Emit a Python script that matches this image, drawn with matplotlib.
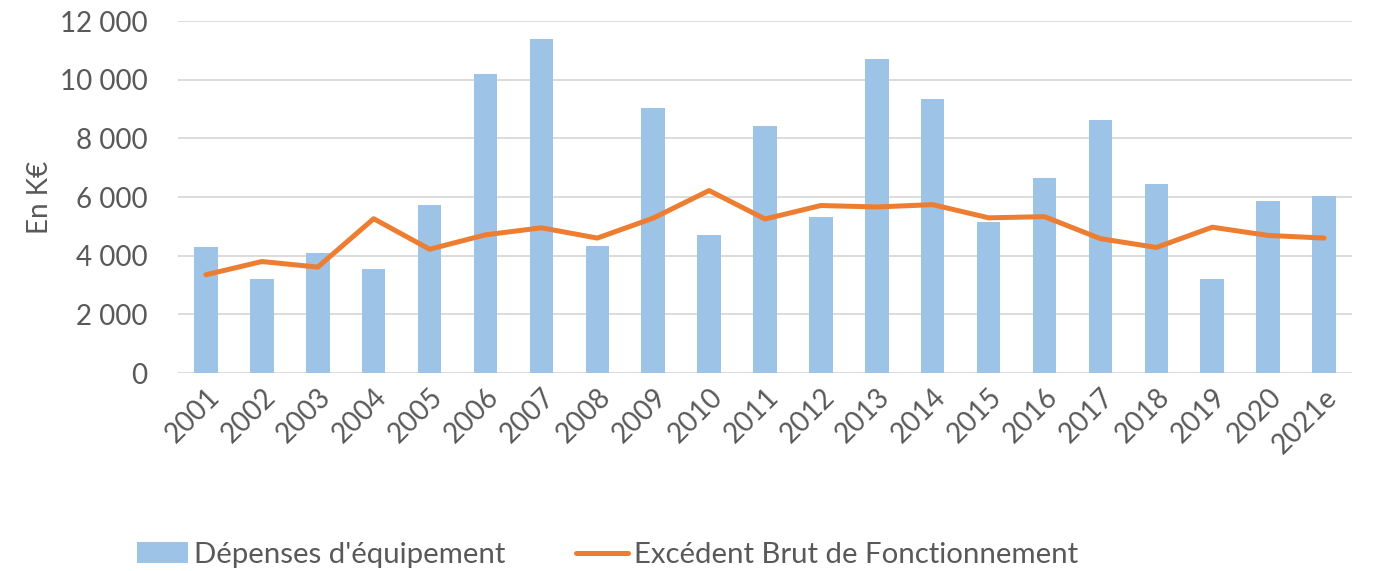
import matplotlib.pyplot as plt
from matplotlib.ticker import FuncFormatter

# values (K€)
years = ['2001', '2002', '2003', '2004', '2005', '2006', '2007', '2008', '2009', '2010', '2011',
         '2012', '2013', '2014', '2015', '2016', '2017', '2018', '2019', '2020', '2021e']
depenses = [4290, 3210, 4090, 3550, 5730, 10210, 11390, 4340, 9040, 4690, 8410,
            5320, 10690, 9350, 5150, 6640, 8640, 6440, 3220, 5860, 6040]
ebf = [3350, 3800, 3610, 5260, 4220, 4710, 4950, 4600, 5280, 6220, 5250,
       5710, 5660, 5740, 5290, 5330, 4580, 4280, 4970, 4690, 4600]

plt.rcParams['font.family'] = ['Lato', 'DejaVu Sans']
txt = '#595959'

fig = plt.figure(figsize=(13.73, 5.71), dpi=100)
ax = fig.add_axes([178/1373, 1 - 373/571, 1174/1373, 352/571])

x = range(len(years))
bars = ax.bar(x, depenses, width=0.42, color='#9dc3e6', label="Dépenses d'équipement", zorder=2)
line, = ax.plot(x, ebf, color='#ed7d31', lw=3.6, solid_capstyle='round', solid_joinstyle='round',
                label='Excédent Brut de Fonctionnement', zorder=3)

ax.set_xlim(-0.5, len(years) - 0.5)
ax.set_ylim(0, 12000)
ax.set_yticks(range(0, 12001, 2000))
ax.yaxis.set_major_formatter(FuncFormatter(lambda v, p: f'{int(v):,}'.replace(',', ' ')))
ax.set_xticks(list(x))
ax.set_xticklabels(years, rotation=45, ha='right', rotation_mode='anchor')
ax.grid(axis='y', color='#d9d9d9', lw=1.3, zorder=0)
ax.set_axisbelow(True)
for s in ax.spines.values():
    s.set_visible(False)
ax.tick_params(axis='both', length=0, labelsize=20, colors=txt)
ax.tick_params(axis='y', pad=22)
ax.tick_params(axis='x', pad=8)
ax.set_ylabel('En K€', fontsize=20, color=txt, labelpad=5)

fig.legend(handles=[bars, line], loc='center left', bbox_to_anchor=(125/1373, 1 - 555/571),
           ncol=2, frameon=False, fontsize=21.2, labelcolor=txt, handlelength=1.75,
           handleheight=0.7, handletextpad=0.2, columnspacing=2.4, borderaxespad=0)

fig.savefig('out.png', dpi=100)
